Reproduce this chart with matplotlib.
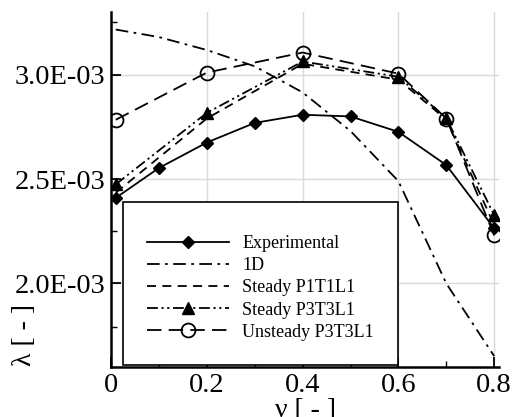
import matplotlib
matplotlib.use("Agg")
import matplotlib.pyplot as plt
from matplotlib.ticker import FixedLocator, FuncFormatter

plt.rcParams['font.family'] = ['Liberation Serif', 'DejaVu Serif']

# Flow coefficient and loss coefficient (lambda) for each data set
x_exp = [0.01, 0.1, 0.2, 0.3, 0.4, 0.5, 0.6, 0.7, 0.8]
y_exp = [2.41e-3, 2.553e-3, 2.675e-3, 2.769e-3, 2.808e-3, 2.80e-3, 2.726e-3, 2.567e-3, 2.264e-3]

x_1d = [0.01, 0.1, 0.2, 0.3, 0.4, 0.5, 0.6, 0.7, 0.8]
y_1d = [3.216e-3, 3.18e-3, 3.118e-3, 3.04e-3, 2.915e-3, 2.73e-3, 2.49e-3, 2.0e-3, 1.652e-3]

x_cfd = [0.01, 0.2, 0.4, 0.6, 0.7, 0.8]
y_p1 = [2.435e-3, 2.79e-3, 3.052e-3, 2.976e-3, 2.785e-3, 2.28e-3]
y_p3 = [2.475e-3, 2.817e-3, 3.063e-3, 2.99e-3, 2.792e-3, 2.327e-3]
y_uns = [2.784e-3, 3.01e-3, 3.106e-3, 3.005e-3, 2.79e-3, 2.23e-3]

labels = ["Experimental", "1D", "Steady P1T1L1", "Steady P3T3L1", "Unsteady P3T3L1"]

x_major = [0, 0.2, 0.4, 0.6, 0.8]
x_minor = [0.1, 0.3, 0.5, 0.7]
y_major = [2.0e-3, 2.5e-3, 3.0e-3]
y_minor = [1.79e-3, 2.25e-3, 3.25e-3]

fig = plt.figure(figsize=(5.13, 4.17), dpi=100)
ax = fig.add_axes([0.2164, 0.1199, 0.7563, 0.8513])

lw = 1.3
ax.plot(x_exp, y_exp, color='black', lw=lw, ls='-', marker='D', ms=6.5,
        mfc='black', mec='black', label=labels[0], zorder=5)
ax.plot(x_1d, y_1d, color='black', lw=lw, ls=(0, (7, 3, 1.5, 3)),
        label=labels[1], zorder=4)
ax.plot(x_cfd, y_p1, color='black', lw=lw, ls=(0, (5, 3.5)),
        label=labels[2], zorder=4)
ax.plot(x_cfd, y_p3, color='black', lw=lw, ls=(0, (6, 2, 1.2, 2, 1.2, 2)),
        marker='^', ms=8, mfc='black', mec='black', label=labels[3], zorder=5)
ax.plot(x_cfd, y_uns, color='black', lw=lw, ls=(0, (8, 4)),
        marker='o', ms=10, mfc='none', mec='black', mew=1.3,
        label=labels[4], zorder=6)

ax.set_xlim(0, 0.81)
ax.set_ylim(1.6e-3, 3.3e-3)

ax.xaxis.set_major_locator(FixedLocator(x_major))
ax.xaxis.set_minor_locator(FixedLocator(x_minor))
ax.yaxis.set_major_locator(FixedLocator(y_major))
ax.yaxis.set_minor_locator(FixedLocator(y_minor))
ax.xaxis.set_major_formatter(FuncFormatter(lambda v, p: "0" if v == 0 else f"{v:.1f}"))
ax.yaxis.set_major_formatter(FuncFormatter(lambda v, p: f"{v:.1E}"))

ax.grid(True, which='major', color='#d9d9d9', lw=1.0, zorder=0)
ax.set_axisbelow(True)

for s in ['top', 'right']:
    ax.spines[s].set_visible(False)
for s in ['left', 'bottom']:
    ax.spines[s].set_linewidth(1.8)

ax.tick_params(which='major', direction='in', length=7, width=1.3,
               labelsize=20.5, pad=4)
ax.tick_params(which='minor', direction='in', length=4.5, width=1.0)

ax.set_xlabel("ν [ - ]", fontsize=20, labelpad=0.5)
ax.set_ylabel("λ [ - ]", fontsize=20)
ax.yaxis.set_label_coords(-0.19, 0.09)

leg = ax.legend(loc='upper left', bbox_to_anchor=(0.031, 0.465), fontsize=13,
                frameon=True, fancybox=False, edgecolor='black', framealpha=1,
                handlelength=4.55, handletextpad=0.72, labelspacing=0.285,
                borderpad=1.33, borderaxespad=0, title=" ", title_fontsize=2)
leg.get_frame().set_linewidth(1.2)

fig.savefig("out.png", dpi=100)
